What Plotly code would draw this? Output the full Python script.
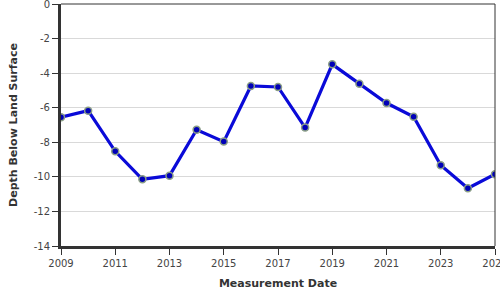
import plotly.graph_objects as go

years = [2009, 2010, 2011, 2012, 2013, 2014, 2015, 2016, 2017, 2018, 2019, 2020, 2021, 2022, 2023, 2024, 2025]
depth = [-6.55, -6.17, -8.52, -10.14, -9.93, -7.27, -7.96, -4.74, -4.80, -7.15, -3.49, -4.61, -5.73, -6.52, -9.33, -10.66, -9.85]
x_ticks = [2009, 2011, 2013, 2015, 2017, 2019, 2021, 2023, 2025]
y_ticks = [0, -2, -4, -6, -8, -10, -12, -14]

fig = go.Figure()
fig.add_trace(go.Scatter(
    x=years, y=depth, mode="lines+markers",
    line=dict(color="#0a0ad8", width=3.2),
    marker=dict(size=7, color="#0000b8", line=dict(color="#8a9e86", width=1.5)),
    showlegend=False,
))

font_family = "DejaVu Sans, Verdana, sans-serif"
fig.update_layout(
    width=500, height=300,
    margin=dict(l=61, r=5, t=4, b=54),
    paper_bgcolor="white", plot_bgcolor="white",
    font=dict(family=font_family, size=10, color="#444"),
    xaxis=dict(
        range=[2009, 2025], tickvals=x_ticks, ticktext=[str(v) for v in x_ticks],
        showgrid=False, zeroline=False,
        showline=True, linecolor="#333", linewidth=3,
        ticks="outside", ticklen=6, tickwidth=1, tickcolor="#333",
        tickfont=dict(size=10, color="#444"),
        ticklabeloverflow="allow",
        title=dict(text="<b>Measurement Date</b>", font=dict(size=11, color="#333"), standoff=12),
        automargin=False,
    ),
    yaxis=dict(
        range=[-14, 0], tickvals=y_ticks, ticktext=[str(v) for v in y_ticks],
        showgrid=True, gridcolor="#d9d9d9", gridwidth=1, zeroline=False,
        showline=True, linecolor="#333", linewidth=3,
        ticks="outside", ticklen=6, tickwidth=1, tickcolor="#333",
        tickfont=dict(size=10, color="#444"),
        ticklabeloverflow="allow",
        title=dict(text="<b>Depth Below Land Surface</b>", font=dict(size=11, color="#333"), standoff=14),
        automargin=False,
    ),
    shapes=[
        dict(type="line", xref="paper", yref="paper", x0=0, x1=1, y0=1, y1=1, line=dict(color="#333", width=1)),
        dict(type="line", xref="paper", yref="paper", x0=1, x1=1, y0=0, y1=1, line=dict(color="#333", width=1)),
    ],
)

fig.write_html("out.html")
